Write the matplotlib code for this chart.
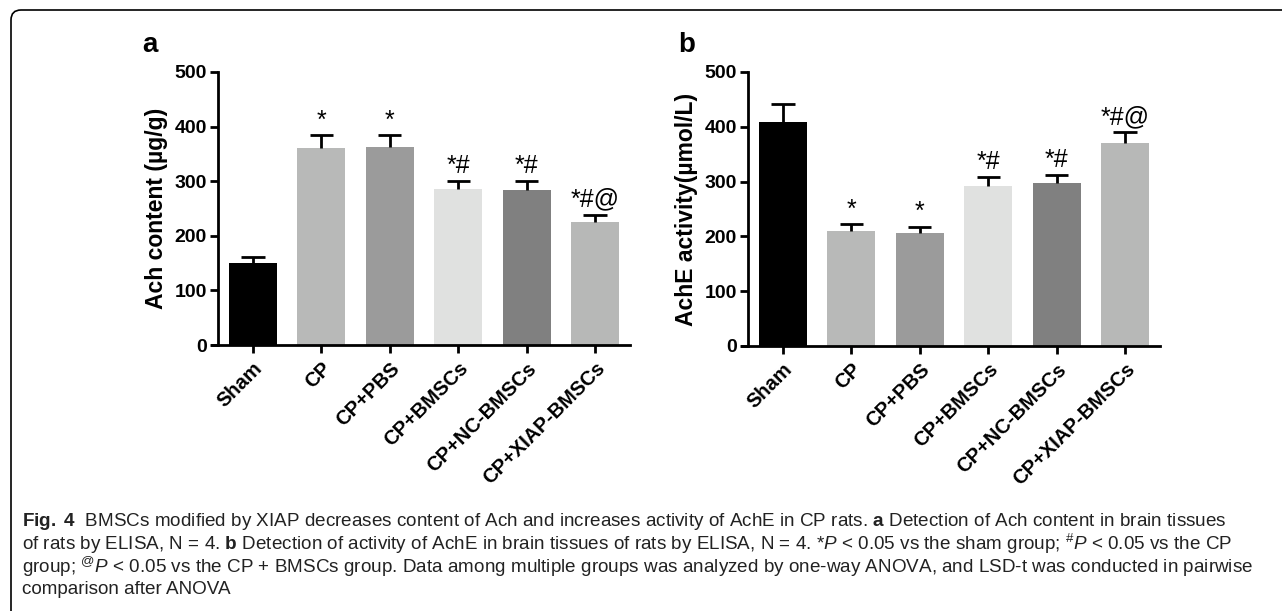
import matplotlib
matplotlib.use("Agg")
import matplotlib.pyplot as plt
from matplotlib.patches import FancyBboxPatch
from matplotlib.transforms import IdentityTransform
import numpy as np

# group names and bar colours (same for both panels)
groups = ["Sham", "CP", "CP+PBS", "CP+BMSCs", "CP+NC-BMSCs", "CP+XIAP-BMSCs"]
bar_colors = ["#000000", "#b8b9b8", "#9b9b9b", "#e0e1e0", "#808080", "#b7b8b7"]

# panel a : Ach content (ug/g)
ach_mean = [150, 360, 362, 285, 284, 225]
ach_sem = [11, 24, 22, 16, 16, 14]
ach_marks = ["", "*", "*", "*#", "*#", "*#@"]

# panel b : AchE activity (umol/L)
ache_mean = [409, 210, 206, 292, 297, 370]
ache_sem = [33, 12, 11, 16, 15, 21]
ache_marks = ["", "*", "*", "*#", "*#", "*#@"]

yticks = [0, 100, 200, 300, 400, 500]

caption = [
    r"$\mathbf{Fig.\ 4}$  BMSCs modified by XIAP decreases content of Ach and increases activity of AchE in CP rats. $\mathbf{a}$ Detection of Ach content in brain tissues",
    r"of rats by ELISA, N = 4. $\mathbf{b}$ Detection of activity of AchE in brain tissues of rats by ELISA, N = 4. *$\mathit{P}$ < 0.05 vs the sham group; $^{\#}\mathit{P}$ < 0.05 vs the CP",
    r"group; $^{@}\mathit{P}$ < 0.05 vs the CP + BMSCs group. Data among multiple groups was analyzed by one-way ANOVA, and LSD-t was conducted in pairwise",
    "comparison after ANOVA",
]

plt.rcParams["font.family"] = ["Liberation Sans", "DejaVu Sans"]
plt.rcParams["mathtext.fontset"] = "custom"
plt.rcParams["mathtext.rm"] = "Liberation Sans"
plt.rcParams["mathtext.it"] = "Liberation Sans:italic"
plt.rcParams["mathtext.bf"] = "Liberation Sans:bold"

W, H = 1282, 611
fig = plt.figure(figsize=(W / 100, H / 100), dpi=100)


def draw_panel(ax, means, sems, marks, ylabel):
    x = np.arange(len(groups))
    means = np.array(means)
    tops = means + np.array(sems)
    ax.bar(x, means, width=0.7, color=bar_colors, edgecolor="none", zorder=2)
    ax.vlines(x, means, tops, color="black", lw=2, zorder=3)
    ax.hlines(tops, x - 0.17, x + 0.17, color="black", lw=2, zorder=3)
    for xi, t, m in zip(x, tops, marks):
        if m:
            ax.annotate(m, (xi, t), xytext=(0, 2), textcoords="offset points",
                        ha="center", va="bottom", fontsize=18)
    ax.set_xlim(-0.51, 5.51)
    ax.set_ylim(0, 500)
    ax.set_yticks(yticks)
    ax.set_xticks(x)
    ax.set_xticklabels(groups, rotation=45, ha="right", va="top",
                       rotation_mode="anchor", fontsize=14.5, fontweight="bold")
    ax.set_yticklabels([str(v) for v in yticks], fontsize=14, fontweight="bold")
    ax.set_ylabel(ylabel, fontsize=16.5, fontweight="bold", labelpad=5)
    for s in ["top", "right"]:
        ax.spines[s].set_visible(False)
    for s in ["left", "bottom"]:
        ax.spines[s].set_linewidth(2)
    ax.spines["bottom"].set_bounds(-0.6, 5.51)
    ax.tick_params(width=2, length=6, pad=2)
    ax.tick_params(axis="x", pad=4)


ax_a = fig.add_axes([218 / W, 1 - 345 / H, 412 / W, 273 / H])
ax_b = fig.add_axes([748 / W, 1 - 346 / H, 412 / W, 274 / H])
draw_panel(ax_a, ach_mean, ach_sem, ach_marks, "Ach content (µg/g)")
draw_panel(ax_b, ache_mean, ache_sem, ache_marks, "AchE activity(µmol/L)")

fig.text(150 / W, 1 - 45 / H, "a", fontsize=20, fontweight="bold", ha="center", va="center")
fig.text(687 / W, 1 - 45 / H, "b", fontsize=20, fontweight="bold", ha="center", va="center")

for i, line in enumerate(caption):
    fig.text(22 / W, 1 - (521 + 23 * i) / H, line, fontsize=13.6, ha="left", va="center",
             color="#222222")

# rounded frame around the figure
frame = FancyBboxPatch((11, -40), W + 40, H - 10 + 40, boxstyle="round,pad=0,rounding_size=10",
                       transform=IdentityTransform(), fill=False, lw=1.2, edgecolor="black")
fig.add_artist(frame)

fig.savefig("out.png", dpi=100)
